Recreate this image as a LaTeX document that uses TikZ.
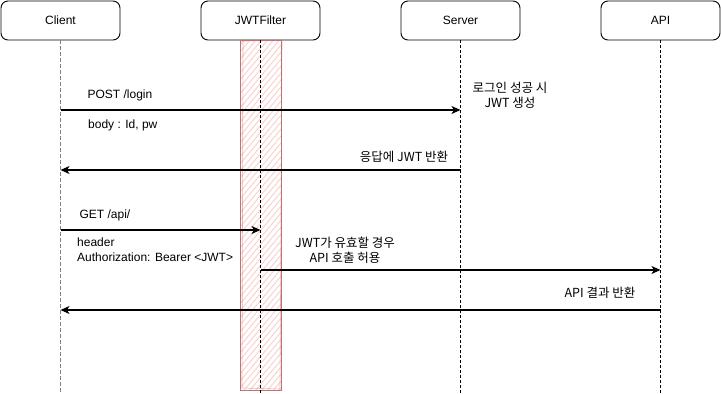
\documentclass[tikz,border=0pt]{standalone}
\usepackage{fontspec}
\setmainfont{Liberation Sans}
\newfontfamily\krfont{Noto Sans CJK KR}
\usetikzlibrary{arrows.meta,positioning,patterns.meta}
\definecolor{barred}{HTML}{C07370}
\definecolor{hatchred}{HTML}{F8D2D0}
\definecolor{lifegray}{HTML}{7F7F7F}
\tikzset{
  actor/.style   = {draw, line width=0.9pt, rounded corners=7pt,
                    minimum width=119pt, minimum height=39pt,
                    font=\fontsize{12}{15}\selectfont},
  life/.style    = {line width=0.9pt, dash pattern=on 3pt off 2pt},
  clientlife/.style = {lifegray, line width=1.6pt, dash pattern=on 3.5pt off 2.5pt},
  msg/.style     = {-{Stealth[length=9pt,width=8pt,inset=2.5pt]}, line width=1.3pt},
  lbl/.style     = {inner sep=0pt, font=\fontsize{12}{15}\selectfont},
  krlbl/.style   = {inner sep=0pt, align=center, font=\krfont\fontsize{12.5}{15}\selectfont},
}

\begin{document}
\begin{tikzpicture}[x=1pt,y=-1pt]
\useasboundingbox (0,0) rectangle (721,394);
% ---------- heads ----------
\node[actor] (Client) at (60.5,20.5) {Client};
\node[actor] (Filter) at (260.5,20.5) {JWTFilter};
\node[actor] (Server) at (460.5,20.5) {Server};
\node[actor] (Api)    at (660.5,20.5) {API};
% ---------- filter bar (sketchy, hatched) ----------
\fill[pattern={Lines[angle=50,distance=4.5pt,line width=1pt]}, pattern color=hatchred]
  (240,40) rectangle (281,390);
\draw[barred, line width=0.7pt] (240,40) rectangle (281,390);
\draw[barred, line width=0.6pt, opacity=0.5]
  (243,41) -- (282,40.5) -- (280,389) -- (242,388) -- cycle;
% ---------- lifelines ----------
\coordinate (Client-end) at (Client |- 0,394);
\coordinate (Filter-end) at (Filter |- 0,394);
\coordinate (Server-end) at (Server |- 0,394);
\coordinate (Api-end)    at (Api |- 0,394);
\draw[clientlife] (Client.south) -- (Client-end);
\draw[life] (Filter.south) -- (Filter-end);
\draw[life] (Server.south) -- (Server-end);
\draw[life] (Api.south) -- (Api-end);
% ---------- login ----------
\coordinate (post-c) at (Client |- 0,110);
\coordinate (post-s) at (Server |- 0,110);
\draw[msg] (post-c) -- (post-s);
\node[lbl] (postlbl) at (120,95) {POST /login};
\node[lbl, anchor=west] (bodylbl) at (88,125) {body : Id, pw};
\node[krlbl] (jwtmake) at (510,95) {로그인 성공 시\\JWT 생성};
\coordinate (resp-s) at (Server |- 0,170);
\coordinate (resp-c) at (Client |- 0,170);
\draw[msg] (resp-s) -- (resp-c);
\node[krlbl] (resplbl) at (404,157) {응답에 JWT 반환};
% ---------- api call ----------
\coordinate (get-c) at (Client |- 0,230);
\coordinate (get-f) at (Filter |- 0,230);
\draw[msg] (get-c) -- (get-f);
\node[lbl] (getlbl) at (105,215) {GET /api/};
\node[lbl, anchor=west, align=left] (headlbl) at (77,250)
  {header\\Authorization: Bearer <JWT>};
\node[krlbl] (validlbl) at (345,250) {JWT가 유효할 경우\\API 호출 허용};
\coordinate (pass-f) at (Filter |- 0,270);
\coordinate (pass-a) at (Api |- 0,270);
\draw[msg] (pass-f) -- (pass-a);
\coordinate (ret-a) at (Api |- 0,310);
\coordinate (ret-c) at (Client |- 0,310);
\draw[msg] (ret-a) -- (ret-c);
\node[krlbl] (retlbl) at (600,293) {API 결과 반환};
\end{tikzpicture}
\end{document}
